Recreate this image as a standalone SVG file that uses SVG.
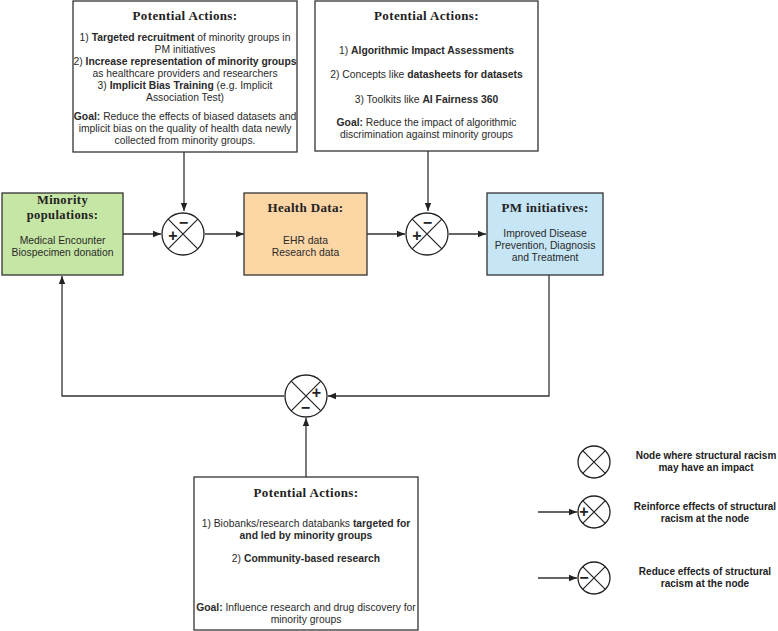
<svg xmlns="http://www.w3.org/2000/svg" width="778" height="631" viewBox="0 0 778 631">
<defs>
<marker id="ah" viewBox="0 0 10 10" refX="10" refY="5" markerWidth="8" markerHeight="8" markerUnits="userSpaceOnUse" orient="auto">
<path d="M0,1 L10,5 L0,9 Z" fill="#222"/>
</marker>
<style>
.box{stroke:#333;stroke-width:1.3}
.t{font-family:"Liberation Serif","Times New Roman",serif;font-weight:bold;font-size:13px;letter-spacing:0.35px;fill:#222;text-anchor:middle}
.ts{font-size:12.5px;letter-spacing:0.4px}
.b{font-family:"Liberation Sans",Arial,sans-serif;font-size:10.35px;fill:#2a2a2a;text-anchor:middle}
.bb{font-weight:bold}
.lg{font-family:"Liberation Sans",Arial,sans-serif;font-size:10px;font-weight:bold;fill:#222;text-anchor:middle}
.c{fill:#fff;stroke:#222;stroke-width:1.3}
.x{stroke:#222;stroke-width:1.2}
.s{font-family:"Liberation Sans",Arial,sans-serif;font-size:16px;font-weight:bold;fill:#222;text-anchor:middle}
.con{fill:none;stroke:#333;stroke-width:1.3}
</style>
</defs>
<rect width="778" height="631" fill="#fff"/>

<g id="connectors">
<path class="con" d="M184,152 V211" marker-end="url(#ah)"/>
<path class="con" d="M428,151 V211" marker-end="url(#ah)"/>
<path class="con" d="M123,234 H161" marker-end="url(#ah)"/>
<path class="con" d="M205,234 H244" marker-end="url(#ah)"/>
<path class="con" d="M367,234 H405" marker-end="url(#ah)"/>
<path class="con" d="M449,234 H486" marker-end="url(#ah)"/>
<path class="con" d="M549,275 V396 H328" marker-end="url(#ah)"/>
<path class="con" d="M284,396 H62 V276" marker-end="url(#ah)"/>
<path class="con" d="M306,477 V418" marker-end="url(#ah)"/>
<path class="con" d="M538,512 H577" marker-end="url(#ah)"/>
<path class="con" d="M538,578 H577" marker-end="url(#ah)"/>
</g>

<g id="actions-top-left">
<rect class="box" x="73" y="1" width="224" height="151" fill="#fff"/>
<text class="t" x="185" y="20">Potential Actions:</text>
<text class="b" x="185" y="41">1) <tspan class="bb">Targeted recruitment</tspan> of minority groups in</text>
<text class="b" x="185" y="53">PM initiatives</text>
<text class="b" x="185" y="65">2) <tspan class="bb">Increase representation of minority groups</tspan></text>
<text class="b" x="185" y="77">as healthcare providers and researchers</text>
<text class="b" x="185" y="89">3) <tspan class="bb">Implicit Bias Training</tspan> (e.g. Implicit</text>
<text class="b" x="185" y="101">Association Test)</text>
<text class="b" x="185" y="120"><tspan class="bb">Goal:</tspan> Reduce the effects of biased datasets and</text>
<text class="b" x="185" y="132">implicit bias on the quality of health data newly</text>
<text class="b" x="185" y="144">collected from minority groups.</text>
</g>

<g id="actions-top-right">
<rect class="box" x="315" y="1" width="223" height="150" fill="#fff"/>
<text class="t" x="426.5" y="20">Potential Actions:</text>
<text class="b" x="426.5" y="54">1) <tspan class="bb">Algorithmic Impact Assessments</tspan></text>
<text class="b" x="426.5" y="78">2) Concepts like <tspan class="bb">datasheets for datasets</tspan></text>
<text class="b" x="426.5" y="103">3) Toolkits like <tspan class="bb">AI Fairness 360</tspan></text>
<text class="b" x="426.5" y="126"><tspan class="bb">Goal:</tspan> Reduce the impact of algorithmic</text>
<text class="b" x="426.5" y="138">discrimination against minority groups</text>
</g>

<g id="minority-populations">
<rect class="box" x="2" y="193" width="121" height="82" fill="#c6e6a5"/>
<text class="t ts" x="62.5" y="204">Minority</text>
<text class="t ts" x="62.5" y="218.5">populations:</text>
<text class="b" x="62.5" y="244">Medical Encounter</text>
<text class="b" x="62.5" y="256">Biospecimen donation</text>
</g>

<g id="health-data">
<rect class="box" x="244" y="193" width="123" height="82" fill="#fcd6a5"/>
<text class="t" x="305.5" y="212">Health Data:</text>
<text class="b" x="305.5" y="244">EHR data</text>
<text class="b" x="305.5" y="256">Research data</text>
</g>

<g id="pm-initiatives">
<rect class="box" x="487" y="193" width="116" height="82" fill="#c6e6f6"/>
<text class="t" x="545" y="212">PM initiatives:</text>
<text class="b" x="545" y="237">Improved Disease</text>
<text class="b" x="545" y="249">Prevention, Diagnosis</text>
<text class="b" x="545" y="261">and Treatment</text>
</g>

<g id="node-1">
<circle class="c" cx="183" cy="234" r="21"/>
<path class="x" d="M168.2,219.2 L197.8,248.8 M197.8,219.2 L168.2,248.8"/>
<text class="s" x="183.5" y="228">−</text>
<text class="s" x="173" y="241">+</text>
</g>

<g id="node-2">
<circle class="c" cx="427" cy="234" r="21"/>
<path class="x" d="M412.2,219.2 L441.8,248.8 M441.8,219.2 L412.2,248.8"/>
<text class="s" x="427.5" y="228">−</text>
<text class="s" x="417" y="241">+</text>
</g>

<g id="node-3">
<circle class="c" cx="306" cy="396" r="21"/>
<path class="x" d="M291.2,381.2 L320.8,410.8 M320.8,381.2 L291.2,410.8"/>
<text class="s" x="316.5" y="398">+</text>
<text class="s" x="305.5" y="413">−</text>
</g>

<g id="actions-bottom">
<rect class="box" x="194" y="477" width="224" height="153" fill="#fff"/>
<text class="t" x="306" y="497">Potential Actions:</text>
<text class="b" x="306" y="527">1) Biobanks/research databanks <tspan class="bb">targeted for</tspan></text>
<text class="b" x="306" y="539"><tspan class="bb">and led by minority groups</tspan></text>
<text class="b" x="306" y="562">2) <tspan class="bb">Community-based research</tspan></text>
<text class="b" x="306" y="611"><tspan class="bb">Goal:</tspan> Influence research and drug discovery for</text>
<text class="b" x="306" y="623">minority groups</text>
</g>

<g id="legend">
<circle class="c" cx="594" cy="462" r="16"/>
<path class="x" d="M582.7,450.7 L605.3,473.3 M605.3,450.7 L582.7,473.3"/>
<text class="lg" x="706" y="459">Node where structural racism</text>
<text class="lg" x="706" y="471">may have an impact</text>

<circle class="c" cx="594" cy="512" r="16"/>
<path class="x" d="M582.7,500.7 L605.3,523.3 M605.3,500.7 L582.7,523.3"/>
<text class="s" x="584" y="517">+</text>
<text class="lg" x="705" y="510">Reinforce effects of structural</text>
<text class="lg" x="705" y="522">racism at the node</text>

<circle class="c" cx="594" cy="578" r="16"/>
<path class="x" d="M582.7,566.7 L605.3,589.3 M605.3,566.7 L582.7,589.3"/>
<text class="s" x="584" y="583">−</text>
<text class="lg" x="705" y="575">Reduce effects of structural</text>
<text class="lg" x="705" y="587">racism at the node</text>
</g>
</svg>
